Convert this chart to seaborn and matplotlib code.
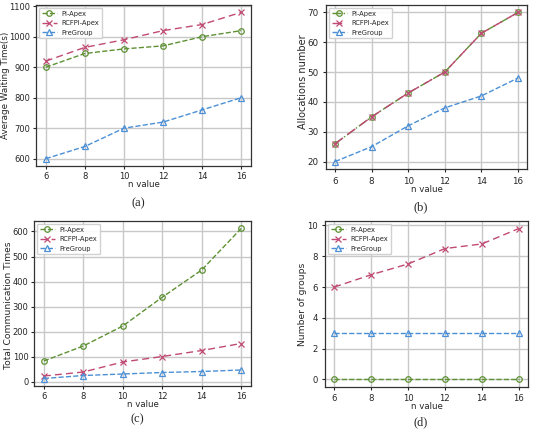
import matplotlib
matplotlib.use("Agg")
import matplotlib.pyplot as plt
import seaborn as sns
import pandas as pd

n_values = [6, 8, 10, 12, 14, 16]

# (a) average waiting time
wait_pi = [900, 945, 960, 970, 1000, 1020]
wait_rcfpi = [920, 965, 990, 1020, 1040, 1080]
wait_pre = [600, 640, 700, 720, 760, 800]

# (b) allocations number
alloc_pi = [26, 35, 43, 50, 63, 70]
alloc_rcfpi = [26, 35, 43, 50, 63, 70]
alloc_pre = [20, 25, 32, 38, 42, 48]

# (c) total communication times
comm_pi = [82, 142, 222, 337, 446, 612]
comm_rcfpi = [22, 38, 78, 100, 124, 152]
comm_pre = [12, 24, 30, 36, 40, 46]

# (d) number of groups
grp_pi = [0, 0, 0, 0, 0, 0]
grp_rcfpi = [6, 6.8, 7.5, 8.5, 8.8, 9.8]
grp_pre = [3, 3, 3, 3, 3, 3]

names = ["PI-Apex", "RCFPI-Apex", "PreGroup"]
colors = ["#5e9134", "#c04a74", "#4b90d6"]
markers = ["o", "x", "^"]

sns.set_style("ticks")
plt.rcParams["font.family"] = ["DejaVu Sans"]

fig = plt.figure(figsize=(5.5, 4.33), dpi=100)
W, H = 550, 433

# box (l, t, r, b) in pixels, ylabel right edge / centre, font sizes, caption y
panels = [
    dict(box=[36, 5, 251, 166], data=(wait_pi, wait_rcfpi, wait_pre),
         ylabel="Average Waiting Time(s)", ylx=10, yly=85.5, tick=6.0, lab=6.3,
         pad=1.5, tag="(a)", tag_y=203, styles=["--", (0, (5, 3)), "--"]),
    dict(box=[326, 5, 527, 169], data=(alloc_pi, alloc_rcfpi, alloc_pre),
         ylabel="Allocations number", ylx=308, yly=82, tick=6.3, lab=7.0,
         pad=3.0, tag="(b)", tag_y=207, styles=["-.", (0, (7, 4)), "--"]),
    dict(box=[34, 221, 251, 386], data=(comm_pi, comm_rcfpi, comm_pre),
         ylabel="Total Communication Times", ylx=13, yly=305, tick=6.0, lab=6.6,
         pad=1.5, tag="(c)", tag_y=419, styles=["--", (0, (5, 3)), "--"]),
    dict(box=[325, 221, 528, 387], data=(grp_pi, grp_rcfpi, grp_pre),
         ylabel="Number of groups", ylx=307, yly=304, tick=6.1, lab=6.6,
         pad=2.5, tag="(d)", tag_y=422, styles=["--", (0, (5, 3)), "--"]),
]

for p in panels:
    l, t, r, b = p["box"]
    ax = fig.add_axes([l / W, 1 - b / H, (r - l) / W, (b - t) / H])
    for name, vals, col, mk, ls in zip(names, p["data"], colors, markers, p["styles"]):
        df = pd.DataFrame({"n": n_values, "v": vals})
        sns.lineplot(data=df, x="n", y="v", ax=ax, color=col, marker=mk,
                     linestyle=ls, linewidth=1.0, markersize=4.0,
                     markerfacecolor="none", markeredgecolor=col,
                     markeredgewidth=0.9, label=name)
    ax.set_xticks(n_values)
    ax.grid(True, color="#c8c8c8", linewidth=1.0)
    ax.set_axisbelow(True)
    ax.tick_params(labelsize=p["tick"], length=2.5, width=0.8, pad=p["pad"])
    ax.set_xlabel("n value", fontsize=6.2, labelpad=-0.5)
    ax.set_ylabel(p["ylabel"], fontsize=p["lab"])
    ax.yaxis.set_label_coords(p["ylx"] / W, 1 - p["yly"] / H, transform=fig.transFigure)
    for sp in ax.spines.values():
        sp.set_color("#333333")
        sp.set_linewidth(0.9)
    ax.legend(loc="upper left", fontsize=4.9, frameon=True, framealpha=0.9,
              borderpad=0.4, labelspacing=0.5, handlelength=2.2,
              handletextpad=0.7, borderaxespad=0.45,
              edgecolor="#cccccc", fancybox=True)
    fig.text((l + r) / 2 / W - 0.01, 1 - p["tag_y"] / H, p["tag"], ha="center",
             va="center", fontsize=9, family="Liberation Serif")

fig.savefig("out.png", dpi=100)
